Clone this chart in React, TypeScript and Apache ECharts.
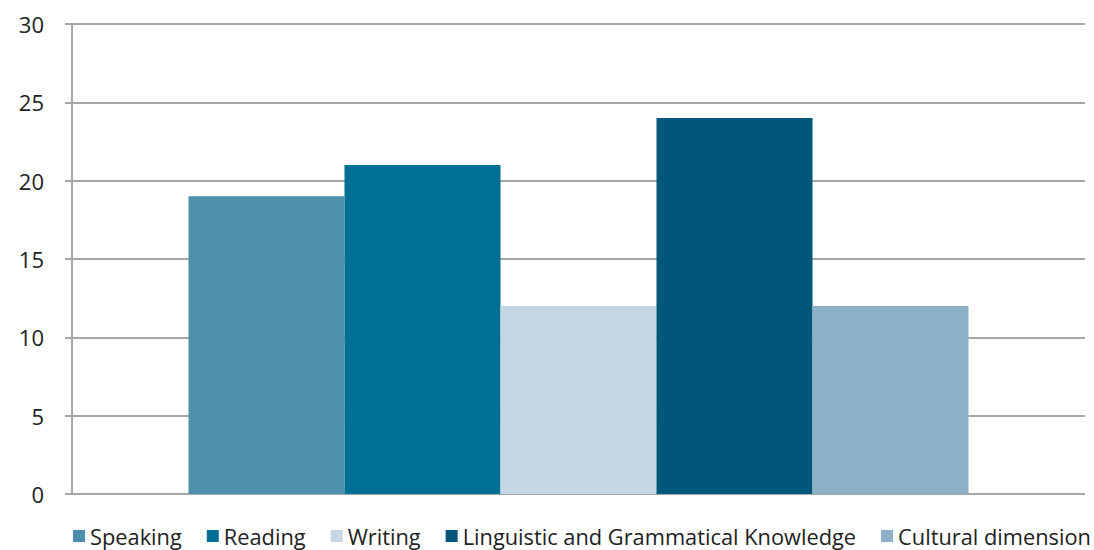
import React, { useEffect, useRef } from "react";
import * as echarts from "echarts";

const categories = ["Skills"];
const seriesNames = ["Speaking", "Reading", "Writing", "Linguistic and Grammatical Knowledge", "Cultural dimension"];
const seriesValues = [19, 21, 12, 24, 12];
const seriesColors = ["#4f8fae", "#006f94", "#c5d7e5", "#00577a", "#8cb0c8"];

export default function App() {
  const ref = useRef<HTMLDivElement>(null);
  useEffect(() => {
    document.body.style.margin = "0";
    const chart = echarts.init(ref.current!, null, { renderer: "svg" });
    chart.setOption({
      animation: false,
      textStyle: { fontFamily: "Open Sans" },
      grid: { left: 72, right: 9, top: 24, bottom: 56 },
      legend: {
        left: 73,
        top: 524,
        padding: 0,
        itemWidth: 12,
        itemHeight: 12,
        itemGap: 25,
        icon: "rect",
        textStyle: { fontSize: 21.8, lineHeight: 24, color: "#222", fontFamily: "Open Sans" },
        data: seriesNames,
      },
      xAxis: {
        type: "category",
        data: categories,
        axisLine: { show: false },
        axisTick: { show: false },
        axisLabel: { show: false },
      },
      yAxis: {
        type: "value",
        min: 0,
        max: 30,
        interval: 5,
        axisLine: { show: true, lineStyle: { color: "#a6a6a6", width: 2 } },
        axisTick: { show: true, length: 7, lineStyle: { color: "#a6a6a6", width: 2 } },
        axisLabel: { fontSize: 22, color: "#222", margin: 28, fontFamily: "Open Sans" },
        splitLine: { show: true, lineStyle: { color: "#a6a6a6", width: 2 } },
      },
      series: seriesNames.map((name, i) => ({
        name,
        type: "bar",
        data: [seriesValues[i]],
        barGap: "0%",
        barCategoryGap: "23%",
        itemStyle: { color: seriesColors[i] },
      })),
    });
    return () => chart.dispose();
  }, []);
  return <div ref={ref} style={{ width: 1094, height: 550 }} />;
}
